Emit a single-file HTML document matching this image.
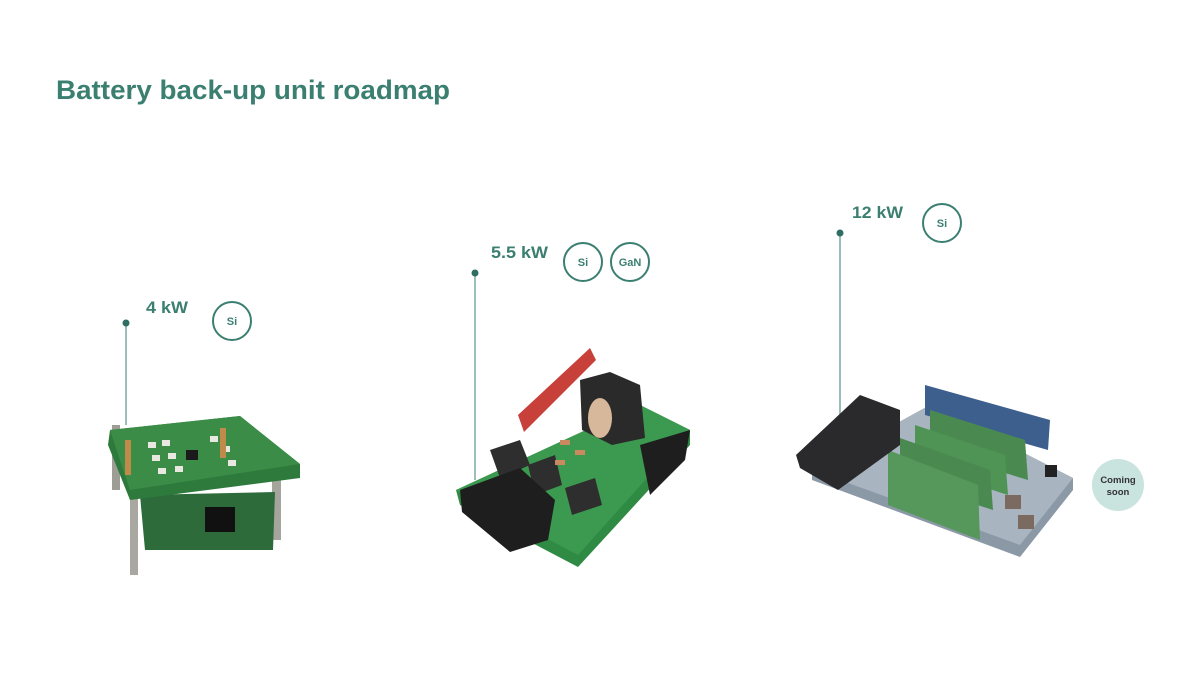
<!DOCTYPE html>
<html><head><meta charset="utf-8"><style>
html,body{margin:0;padding:0;background:#fff;}
svg{display:block;}
text{font-family:"Liberation Sans",sans-serif;}
</style></head><body>
<svg width="1198" height="698" viewBox="0 0 1198 698" xmlns="http://www.w3.org/2000/svg">
<rect width="1198" height="698" fill="#fff"/>
<text x="56" y="99" font-size="27" font-weight="bold" fill="#3b7f71" textLength="394" lengthAdjust="spacingAndGlyphs">Battery back-up unit roadmap</text>

<g fill="#3b7f71" font-weight="bold" font-size="17">
<text x="146" y="313" textLength="42" lengthAdjust="spacingAndGlyphs">4 kW</text>
<text x="491" y="258" textLength="57" lengthAdjust="spacingAndGlyphs">5.5 kW</text>
<text x="852" y="218" textLength="51" lengthAdjust="spacingAndGlyphs">12 kW</text>
</g>
<g fill="none" stroke="#3b7f71" stroke-width="2">
<circle cx="232" cy="321" r="19"/>
<circle cx="583" cy="262" r="19"/>
<circle cx="630" cy="262" r="19"/>
<circle cx="942" cy="223" r="19"/>
</g>
<g fill="#3b7f71" font-size="11" font-weight="bold" text-anchor="middle">
<text x="232" y="325">Si</text>
<text x="583" y="266">Si</text>
<text x="630" y="266">GaN</text>
<text x="942" y="227">Si</text>
</g>
<g stroke="#7aa9a0" stroke-width="1.5">
<line x1="126" y1="323" x2="126" y2="425"/>
<line x1="475" y1="273" x2="475" y2="480"/>
<line x1="840" y1="233" x2="840" y2="420"/>
</g>
<g fill="#2f6e62">
<circle cx="126" cy="323" r="3.5"/>
<circle cx="475" cy="273" r="3.5"/>
<circle cx="840" cy="233" r="3.5"/>
</g>

<circle cx="1118" cy="485" r="26" fill="#c9e3df"/>
<g font-size="9.5" font-weight="bold" fill="#333" text-anchor="middle">
<text x="1118" y="483">Coming</text>
<text x="1118" y="495">soon</text>
</g>

<!-- Board 1 -->
<g>
<rect x="130" y="480" width="8" height="95" fill="#a8a8a0"/>
<rect x="272" y="470" width="9" height="70" fill="#a5a59e"/>
<rect x="112" y="425" width="8" height="65" fill="#9d9d96"/>
<polygon points="140,495 275,492 273,550 145,550" fill="#2d6b3a"/>
<rect x="205" y="507" width="30" height="25" fill="#111"/>
<polygon points="110,430 240,416 300,464 300,478 130,500 108,445" fill="#2e7a3c"/>
<polygon points="110,430 240,416 300,464 130,490" fill="#3a8c46"/>
<g fill="#e8e8e0">
<rect x="148" y="442" width="8" height="6"/><rect x="162" y="440" width="8" height="6"/>
<rect x="152" y="455" width="8" height="6"/><rect x="168" y="453" width="8" height="6"/>
<rect x="158" y="468" width="8" height="6"/><rect x="175" y="466" width="8" height="6"/>
<rect x="210" y="436" width="8" height="6"/><rect x="222" y="446" width="8" height="6"/>
<rect x="228" y="460" width="8" height="6"/>
</g>
<g fill="#c08a4a"><rect x="125" y="440" width="6" height="35"/><rect x="220" y="428" width="6" height="30"/></g>
<rect x="186" y="450" width="12" height="10" fill="#1a1a1a"/>
</g>

<!-- Board 2 -->
<g>
<polygon points="456,490 640,405 690,430 690,445 578,567 460,505" fill="#2f8a44"/>
<polygon points="456,490 640,405 690,430 578,555" fill="#3c9a50"/>
<polygon points="518,415 590,348 596,360 524,432" fill="#c8403a"/>
<polygon points="580,380 610,372 640,385 645,438 612,445 582,430" fill="#2a2a2a"/>
<ellipse cx="600" cy="418" rx="12" ry="20" fill="#d8b89a"/>
<polygon points="490,450 520,440 530,465 500,478" fill="#2e2e2e"/>
<polygon points="528,465 555,455 562,485 535,495" fill="#2e2e2e"/>
<polygon points="565,488 595,478 602,505 572,515" fill="#2e2e2e"/>
<polygon points="460,490 520,468 555,500 548,540 510,552 462,512" fill="#1e1e1e"/>
<polygon points="640,445 690,430 685,460 650,495" fill="#1e1e1e"/>
<g fill="#c98a60"><rect x="560" y="440" width="10" height="5"/><rect x="575" y="450" width="10" height="5"/><rect x="555" y="460" width="10" height="5"/></g>
</g>

<!-- Board 3 -->
<g>
<polygon points="812,470 930,405 1073,478 1073,490 1020,557 812,480" fill="#8b98a6"/>
<polygon points="812,470 930,405 1073,478 1020,545" fill="#a8b4c0"/>
<polygon points="925,385 1050,420 1048,450 925,415" fill="#3d5f8e"/>
<polygon points="930,410 1025,440 1028,480 930,450" fill="#4a8a50"/>
<polygon points="915,425 1005,455 1008,495 915,465" fill="#4f9355"/>
<polygon points="900,438 990,470 993,510 900,480" fill="#4a8a50"/>
<polygon points="888,450 978,485 980,540 888,505" fill="#56985b"/>
<polygon points="796,455 860,395 900,410 900,445 838,490 800,468" fill="#2a2a2c"/>
<rect x="1005" y="495" width="16" height="14" fill="#7a6a60"/>
<rect x="1018" y="515" width="16" height="14" fill="#7a6a60"/>
<rect x="1045" y="465" width="12" height="12" fill="#222"/>
</g>
</svg>
</body></html>
